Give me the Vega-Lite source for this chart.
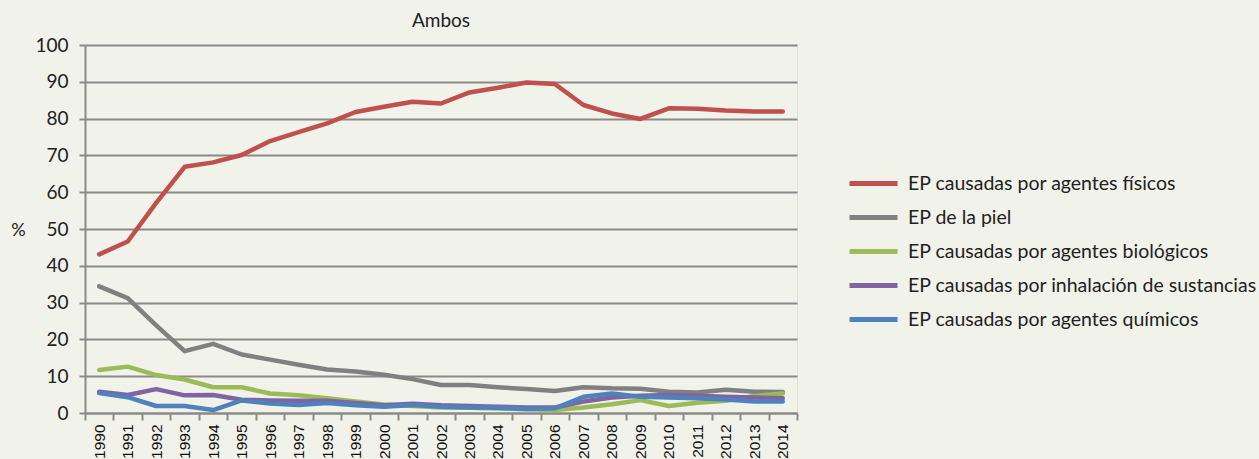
{
  "$schema": "https://vega.github.io/schema/vega-lite/v6.json",
  "width": 712,
  "height": 368,
  "autosize": {"type": "none"},
  "padding": {"left": 85, "top": 45, "right": 462, "bottom": 46},
  "background": "#F1F2E9",
  "title": {"text": "Ambos", "fontSize": 19, "font": "Lato", "fontWeight": "normal", "color": "#222222", "anchor": "middle", "offset": 5},
  "data": {"values": [
    {"year": 1990, "EP causadas por agentes físicos": 43.1, "EP de la piel": 34.4, "EP causadas por agentes biológicos": 11.7, "EP causadas por inhalación de sustancias": 5.8, "EP causadas por agentes químicos": 5.4},
    {"year": 1991, "EP causadas por agentes físicos": 46.6, "EP de la piel": 31.2, "EP causadas por agentes biológicos": 12.6, "EP causadas por inhalación de sustancias": 4.9, "EP causadas por agentes químicos": 4.3},
    {"year": 1992, "EP causadas por agentes físicos": 57.1, "EP de la piel": 23.8, "EP causadas por agentes biológicos": 10.3, "EP causadas por inhalación de sustancias": 6.5, "EP causadas por agentes químicos": 1.9},
    {"year": 1993, "EP causadas por agentes físicos": 66.9, "EP de la piel": 16.8, "EP causadas por agentes biológicos": 9.1, "EP causadas por inhalación de sustancias": 4.8, "EP causadas por agentes químicos": 1.9},
    {"year": 1994, "EP causadas por agentes físicos": 68.1, "EP de la piel": 18.8, "EP causadas por agentes biológicos": 7.0, "EP causadas por inhalación de sustancias": 4.9, "EP causadas por agentes químicos": 0.8},
    {"year": 1995, "EP causadas por agentes físicos": 70.1, "EP de la piel": 15.9, "EP causadas por agentes biológicos": 7.0, "EP causadas por inhalación de sustancias": 3.6, "EP causadas por agentes químicos": 3.4},
    {"year": 1996, "EP causadas por agentes físicos": 73.9, "EP de la piel": 14.5, "EP causadas por agentes biológicos": 5.3, "EP causadas por inhalación de sustancias": 3.4, "EP causadas por agentes químicos": 2.6},
    {"year": 1997, "EP causadas por agentes físicos": 76.3, "EP de la piel": 13.1, "EP causadas por agentes biológicos": 4.8, "EP causadas por inhalación de sustancias": 3.3, "EP causadas por agentes químicos": 2.2},
    {"year": 1998, "EP causadas por agentes físicos": 78.7, "EP de la piel": 11.8, "EP causadas por agentes biológicos": 4.0, "EP causadas por inhalación de sustancias": 3.3, "EP causadas por agentes químicos": 2.7},
    {"year": 1999, "EP causadas por agentes físicos": 81.8, "EP de la piel": 11.3, "EP causadas por agentes biológicos": 3.1, "EP causadas por inhalación de sustancias": 2.7, "EP causadas por agentes químicos": 2.1},
    {"year": 2000, "EP causadas por agentes físicos": 83.2, "EP de la piel": 10.4, "EP causadas por agentes biológicos": 2.3, "EP causadas por inhalación de sustancias": 2.1, "EP causadas por agentes químicos": 1.7},
    {"year": 2001, "EP causadas por agentes físicos": 84.6, "EP de la piel": 9.2, "EP causadas por agentes biológicos": 1.9, "EP causadas por inhalación de sustancias": 2.5, "EP causadas por agentes químicos": 2.2},
    {"year": 2002, "EP causadas por agentes físicos": 84.1, "EP de la piel": 7.6, "EP causadas por agentes biológicos": 1.5, "EP causadas por inhalación de sustancias": 2.1, "EP causadas por agentes químicos": 1.7},
    {"year": 2003, "EP causadas por agentes físicos": 87.1, "EP de la piel": 7.6, "EP causadas por agentes biológicos": 1.4, "EP causadas por inhalación de sustancias": 1.9, "EP causadas por agentes químicos": 1.5},
    {"year": 2004, "EP causadas por agentes físicos": 88.4, "EP de la piel": 7.0, "EP causadas por agentes biológicos": 1.2, "EP causadas por inhalación de sustancias": 1.7, "EP causadas por agentes químicos": 1.4},
    {"year": 2005, "EP causadas por agentes físicos": 89.8, "EP de la piel": 6.5, "EP causadas por agentes biológicos": 1.0, "EP causadas por inhalación de sustancias": 1.5, "EP causadas por agentes químicos": 1.1},
    {"year": 2006, "EP causadas por agentes físicos": 89.4, "EP de la piel": 6.0, "EP causadas por agentes biológicos": 0.8, "EP causadas por inhalación de sustancias": 1.5, "EP causadas por agentes químicos": 1.3},
    {"year": 2007, "EP causadas por agentes físicos": 83.7, "EP de la piel": 7.0, "EP causadas por agentes biológicos": 1.5, "EP causadas por inhalación de sustancias": 3.1, "EP causadas por agentes químicos": 4.4},
    {"year": 2008, "EP causadas por agentes físicos": 81.4, "EP de la piel": 6.7, "EP causadas por agentes biológicos": 2.4, "EP causadas por inhalación de sustancias": 4.2, "EP causadas por agentes químicos": 5.3},
    {"year": 2009, "EP causadas por agentes físicos": 79.9, "EP de la piel": 6.6, "EP causadas por agentes biológicos": 3.5, "EP causadas por inhalación de sustancias": 4.7, "EP causadas por agentes químicos": 4.4},
    {"year": 2010, "EP causadas por agentes físicos": 82.8, "EP de la piel": 5.8, "EP causadas por agentes biológicos": 1.9, "EP causadas por inhalación de sustancias": 4.9, "EP causadas por agentes químicos": 4.2},
    {"year": 2011, "EP causadas por agentes físicos": 82.7, "EP de la piel": 5.6, "EP causadas por agentes biológicos": 2.8, "EP causadas por inhalación de sustancias": 4.7, "EP causadas por agentes químicos": 4.0},
    {"year": 2012, "EP causadas por agentes físicos": 82.2, "EP de la piel": 6.3, "EP causadas por agentes biológicos": 3.3, "EP causadas por inhalación de sustancias": 4.4, "EP causadas por agentes químicos": 3.7},
    {"year": 2013, "EP causadas por agentes físicos": 81.9, "EP de la piel": 5.8, "EP causadas por agentes biológicos": 4.6, "EP causadas por inhalación de sustancias": 4.2, "EP causadas por agentes químicos": 3.1},
    {"year": 2014, "EP causadas por agentes físicos": 81.9, "EP de la piel": 5.7, "EP causadas por agentes biológicos": 5.3, "EP causadas por inhalación de sustancias": 4.0, "EP causadas por agentes químicos": 3.1}
  ]},
  "transform": [
    {"fold": ["EP causadas por agentes físicos", "EP de la piel", "EP causadas por agentes biológicos", "EP causadas por inhalación de sustancias", "EP causadas por agentes químicos"], "as": ["serie", "valor"]}
  ],
  "mark": {"type": "line", "strokeWidth": 4.5, "strokeJoin": "round", "strokeCap": "round"},
  "encoding": {
    "x": {
      "field": "year", "type": "ordinal",
      "scale": {"type": "band", "paddingInner": 0, "paddingOuter": 0},
      "axis": {"title": null, "labelAngle": -90, "tickBand": "extent", "labelFont": "Liberation Sans", "labelFontSize": 15.5, "labelColor": "#111111", "domainColor": "#8a8a8a", "domainWidth": 2, "tickColor": "#8a8a8a", "tickWidth": 2, "tickSize": 7, "labelPadding": 4, "grid": false}
    },
    "y": {
      "field": "valor", "type": "quantitative",
      "scale": {"domain": [0, 100]},
      "axis": {"values": [0, 10, 20, 30, 40, 50, 60, 70, 80, 90, 100], "title": "%", "titleAngle": 0, "titleX": -67, "titleY": 194, "titleFont": "Lato", "titleFontSize": 18, "titleFontWeight": "normal", "titleColor": "#222222", "labelFont": "Lato", "labelFontSize": 19, "labelColor": "#222222", "labelPadding": 11, "tickSize": 6, "tickColor": "#8a8a8a", "tickWidth": 2, "domainColor": "#8a8a8a", "domainWidth": 2, "grid": true, "gridColor": "#8a8a8a", "gridWidth": 2}
    },
    "color": {
      "field": "serie", "type": "nominal",
      "scale": {"domain": ["EP causadas por agentes físicos", "EP de la piel", "EP causadas por agentes biológicos", "EP causadas por inhalación de sustancias", "EP causadas por agentes químicos"], "range": ["#C0504D", "#808080", "#9BBB59", "#8064A2", "#4F81BD"]},
      "legend": {"orient": "none", "legendX": 774, "legendY": 124, "title": null, "padding": 0, "symbolType": "M-2,0H2", "symbolSize": 576, "symbolStrokeWidth": 5, "labelOffset": 20, "labelFont": "Lato", "labelFontSize": 19.5, "labelColor": "#222222", "labelLimit": 0, "rowPadding": 9}
    }
  }
}
